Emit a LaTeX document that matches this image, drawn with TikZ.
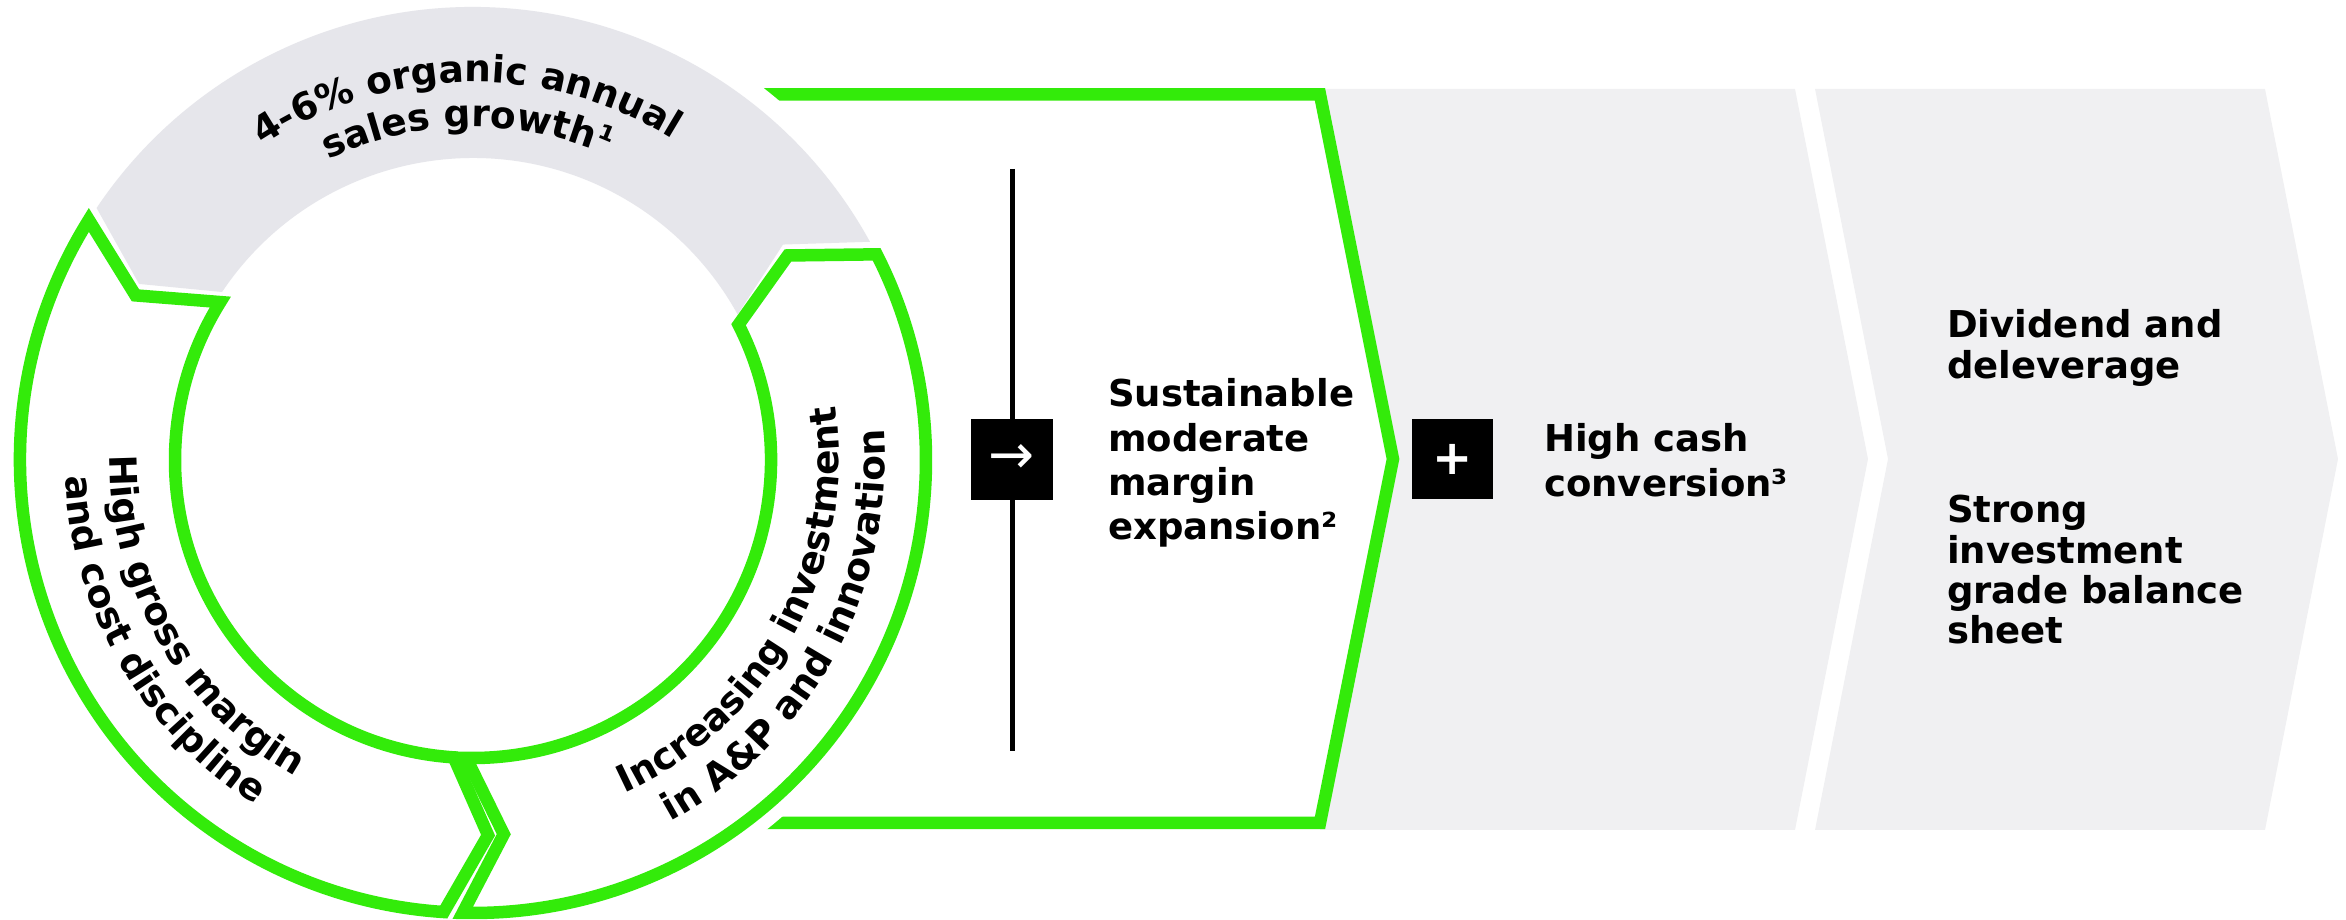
\documentclass[tikz,border=0pt]{standalone}
\usepackage{fontspec}
\setmainfont{DejaVu Sans}
\usetikzlibrary{decorations.text}
\definecolor{brandgreen}{RGB}{51,235,10}
\definecolor{ringgray}{RGB}{230,230,235}
\definecolor{chevgray}{RGB}{240,240,242}
\newcommand\ringfont{\fontsize{37.5}{44}\selectfont\bfseries}
\tikzset{
  greenline/.style={draw=brandgreen, line width=12.5pt, line join=miter},
  bodytext/.style={font=\fontsize{37}{44.3}\selectfont\bfseries, inner sep=0pt, anchor=base west},
  bodytextB/.style={font=\fontsize{37}{40}\selectfont\bfseries, inner sep=0pt, anchor=base west},
  blackbox/.style={fill=black, text=white, inner sep=0pt, minimum width=82pt, minimum height=81pt},
  arctext/.style={decorate, decoration={text along path, text align=center, text={|\ringfont|#1}}}
}
\begin{document}
\begin{tikzpicture}[x=1pt,y=1pt]
\useasboundingbox (0,0) rectangle (2346,920);
% grey chevrons
\fill[chevgray] (1320,831) -- (1795,831) -- (1868,461) -- (1795,90) -- (1320,90) -- (1393,461) -- cycle;
\fill[chevgray] (1815,831) -- (2265,831) -- (2338,461) -- (2265,90) -- (1815,90) -- (1888,461) -- cycle;
% green chevron
\draw[greenline, fill=white] (700,825.5) -- (1320,825.5) -- (1393,461) -- (1320,97) -- (700,97) -- cycle;
% white disc around the cycle
\fill[white] (473,460) circle[radius=472];
\begin{scope}[shift={(473,460)}]
  % grey top segment
  \fill[ringgray] (28.8:453) arc[start angle=28.8, end angle=146.2, radius=453] -- (152.2:377.5) -- (146.2:302)
     arc[start angle=146.2, end angle=28.8, radius=302] -- (34.8:377.5) -- cycle;
  % green left segment
  \draw[greenline, fill=white] (148:453) arc[start angle=148, end angle=266.3, radius=453] -- (272.3:375.5) -- (266.3:298)
     arc[start angle=266.3, end angle=148, radius=298] -- (154:375.5) -- cycle;
  % green right segment
  \draw[greenline, fill=white] (268.7:453) arc[start angle=268.7, end angle=387, radius=453] -- (393:375.5) -- (387:298)
     arc[start angle=387, end angle=268.7, radius=298] -- (274.7:375.5) -- cycle;
  % texts along the ring
  \path[arctext={4-6{\%} organic annual}] (141:378) arc[start angle=141, end angle=41, radius=378];
  \path[arctext={sales growth¹}] (141:333) arc[start angle=141, end angle=41, radius=333];
  \path[arctext={High gross margin}] (160:363) arc[start angle=160, end angle=260, radius=363];
  \path[arctext={and cost discipline}] (160:408) arc[start angle=160, end angle=260, radius=408];
  \path[arctext={Increasing investment}] (281.5:366) arc[start angle=281.5, end angle=381.5, radius=366];
  \path[arctext={in A{\&}P and innovation}] (281.5:412) arc[start angle=281.5, end angle=381.5, radius=412];
\end{scope}
% vertical line and boxes
\coordinate (vtop) at (1012.5,751);
\coordinate (vbot) at (1012.5,169);
\draw[line width=5.5pt] (vtop) -- (vbot);
\node[blackbox, font=\fontsize{55}{55}\selectfont] (arrowbox) at (1012,460.5) {→};
\node[blackbox, minimum width=81pt, minimum height=80pt, font=\fontsize{48}{48}\selectfont\bfseries] (plusbox) at (1452.5,461) {+};
% texts
\node[bodytext] (sust) at (1108,513) {\begin{tabular}[t]{@{}l@{}}Sustainable\\moderate\\margin\\expansion²\end{tabular}};
\node[bodytext] (cash) at (1544,468) {\begin{tabular}[t]{@{}l@{}}High cash\\conversion³\end{tabular}};
\node[bodytextB] (divid) at (1947,582) {\begin{tabular}[t]{@{}l@{}}Dividend and\\deleverage\end{tabular}};
\node[bodytextB] (strong) at (1947,397) {\begin{tabular}[t]{@{}l@{}}Strong\\investment\\grade balance\\sheet\end{tabular}};
\end{tikzpicture}
\end{document}
